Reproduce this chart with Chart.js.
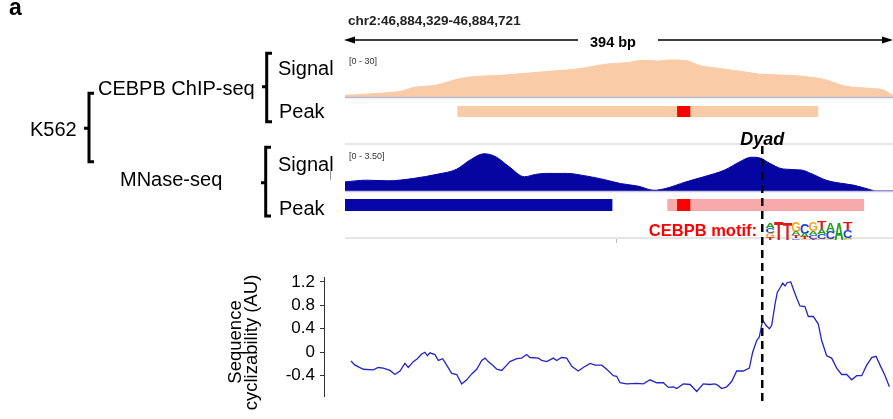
<!DOCTYPE html>
<html lang="en">
<head>
<meta charset="UTF-8">
<title>CEBPB motif at nucleosome dyad</title>
<script src="https://cdn.jsdelivr.net/npm/chart.js"></script>
<style>
  body { margin: 0; background: #fff; }
  #fig { position: relative; width: 893px; height: 419px; overflow: hidden; }
  #fig canvas { position: absolute; }
  #overlay { position: absolute; left: 0; top: 0; }
</style>
</head>
<body>
<div id="fig">
  <canvas id="chipSignal" width="548" height="42" style="left:345px;top:55px"></canvas>
  <canvas id="chipPeak" width="548" height="11" style="left:345px;top:106px"></canvas>
  <canvas id="mnaseSignal" width="548" height="43" style="left:345px;top:148px"></canvas>
  <canvas id="mnasePeak" width="548" height="12" style="left:345px;top:199px"></canvas>
  <canvas id="cycChart" width="633" height="150" style="left:260px;top:262px"></canvas>

  <svg id="overlay" width="893" height="419" font-family="Liberation Sans, Arial, sans-serif">
    <!-- panel letter + locus header -->
    <text x="9" y="15" font-size="23" font-weight="bold">a</text>
    <text x="348" y="25" font-size="13.5" font-weight="bold" fill="#222">chr2:46,884,329-46,884,721</text>
    <line x1="350" y1="40" x2="578" y2="40" stroke="#000" stroke-width="1.5"/>
    <line x1="658" y1="40" x2="887" y2="40" stroke="#000" stroke-width="1.5"/>
    <polygon points="344,40 355,36.5 355,43.5" fill="#000"/>
    <polygon points="893,40 882,36.5 882,43.5" fill="#000"/>
    <text x="613" y="46.5" font-size="14.5" font-weight="bold" text-anchor="middle">394 bp</text>

    <!-- track frame lines -->
    <line x1="345" y1="97.5" x2="893" y2="97.5" stroke="#b8b8d0" stroke-width="1.5"/>
    <line x1="345" y1="144" x2="893" y2="144" stroke="#dedede" stroke-width="1.5"/>
    <line x1="345" y1="191.5" x2="893" y2="191.5" stroke="#c4c4dc" stroke-width="1.5"/>
    <line x1="345" y1="238" x2="893" y2="238" stroke="#cccccc" stroke-width="1.2"/>
    <line x1="616.5" y1="239" x2="616.5" y2="243" stroke="#bbb" stroke-width="1"/>
    <text x="349" y="63.5" font-size="9" fill="#333">[0 - 30]</text>
    <text x="349" y="158.5" font-size="9" fill="#333">[0 - 3.50]</text>

    <!-- left hierarchy labels -->
    <g font-size="20" fill="#000">
      <text x="278" y="74.5">Signal</text>
      <text x="279" y="118.3">Peak</text>
      <text x="98" y="95">CEBPB ChIP-seq</text>
      <text x="30" y="136">K562</text>
      <text x="120" y="185.5">MNase-seq</text>
      <text x="278" y="170.5">Signal</text>
      <text x="279" y="215">Peak</text>
    </g>
    <line x1="330.5" y1="170" x2="330.5" y2="180" stroke="#999" stroke-width="1"/>
    <g stroke="#000" stroke-width="3" fill="none">
      <path d="M272,53.3 H266.7 V121.7 H272 M266.7,86.7 H262"/>
      <path d="M94,93.3 H89 V161.7 H94 M89,128.3 H84"/>
      <path d="M271,147.3 H265.7 V216 H271 M265.7,182.7 H261"/>
    </g>

    <!-- motif -->
    <text x="757" y="236" font-size="16.5" font-weight="bold" fill="#f00" text-anchor="end">CEBPB motif:</text>
    <g id="logo" font-weight="bold" font-size="20"></g>

    <!-- y axis title of cyclizability plot -->
    <g font-size="18.5" text-anchor="middle" fill="#000">
      <text transform="translate(240.5,342) rotate(-90)">Sequence</text>
      <text transform="translate(256.5,342.5) rotate(-90)">cyclizability (AU)</text>
    </g>

    <!-- dyad -->
    <line id="dyadLine" x1="762" y1="146" x2="762" y2="401" stroke="#000" stroke-width="2.5" stroke-dasharray="8,5"/>
    <text id="dyadLabel" x="762" y="144.5" font-size="18" font-weight="bold" font-style="italic" text-anchor="middle">Dyad</text>
  </svg>
</div>

<script>
// genome window 46,884,329-46,884,721, positions in bp from the left edge
const trackLength = 394;
const dyadPos = 300;

// CEBPB ChIP-seq signal (0-30)
const chipPos = [0, 21, 41, 49, 65, 83, 91, 114, 134, 152, 170, 186, 204, 214, 225, 233, 246, 251, 256, 269, 287, 298, 318, 344, 360, 380, 386, 392, 394];
const chipVal = [1.2, 2.4, 4.3, 6.8, 8.4, 13.2, 14.4, 15.6, 17.3, 18.7, 20.4, 23.3, 24.7, 26.2, 25.7, 26.4, 25.9, 24.0, 22.3, 20.4, 18.0, 16.3, 15.6, 12.7, 7.7, 6.0, 5.3, 2.4, 1.2];

// MNase-seq signal (0-3.50)
const mnasePos = [0, 15, 31, 49, 67, 80, 90, 100, 108, 118, 129, 137, 144, 160, 170, 186, 198, 211, 222, 230, 245, 258, 273, 284, 292, 299, 304, 315, 328, 335, 346, 353, 366, 379, 381, 394];
const mnaseVal = [0.74, 0.88, 0.83, 1.02, 1.38, 1.76, 2.53, 3.03, 2.81, 1.98, 1.16, 1.35, 1.43, 1.43, 1.29, 0.94, 0.61, 0.39, 0.06, 0.19, 0.74, 1.16, 1.71, 2.39, 2.75, 2.67, 2.34, 1.79, 1.71, 1.43, 0.88, 0.69, 0.47, 0.06, 0, 0];

// peaks [start, end] in bp
const chipPeak = [81, 340];
const chipSummit = [239, 248];
const mnasePeakLeft = [0, 192];
const mnasePeakRight = [232, 373];
const mnaseSummit = [239, 248];

// sequence cyclizability along the window
const cycPos = [4.3, 7.2, 13.2, 20.3, 23.9, 27.5, 32.4, 35.9, 39.5, 43.1, 45.5, 49.1, 52.0, 55.1, 57.5, 59.2, 61.1, 64.7, 67.1, 70.2, 73.1, 76.7, 80.3, 83.9, 87.5, 91.1, 94.7, 98.3, 100.7, 103.0, 106.6, 109.1, 112.7, 116.3, 118.6, 123.5, 127.0, 130.6, 133.0, 139.0, 141.5, 145.0, 149.8, 152.2, 155.8, 159.4, 163.0, 167.7, 171.3, 176.2, 179.8, 184.6, 188.2, 192.9, 195.4, 197.7, 202.5, 209.7, 214.5, 219.3, 224.1, 228.9, 232.5, 236.1, 238.5, 243.2, 248.1, 252.9, 257.6, 262.4, 266.0, 268.4, 270.8, 274.4, 278.0, 281.6, 286.4, 290.7, 293.1, 296.0, 297.9, 300.3, 302.7, 305.1, 306.8, 309.2, 310.8, 312.8, 314.7, 316.4, 318.0, 320.5, 322.3, 324.8, 327.1, 330.7, 333.1, 336.7, 340.3, 342.7, 346.3, 349.9, 353.5, 357.1, 360.7, 364.3, 367.9, 371.5, 375.1, 378.7, 381.8, 384.7, 388.3, 391.4];
const cycVal = [-0.15, -0.22, -0.29, -0.30, -0.26, -0.27, -0.31, -0.38, -0.32, -0.19, -0.26, -0.16, -0.11, -0.03, 0.0, -0.06, -0.01, -0.04, -0.14, -0.11, -0.22, -0.36, -0.38, -0.54, -0.47, -0.37, -0.29, -0.14, -0.10, -0.16, -0.23, -0.29, -0.31, -0.22, -0.16, -0.11, -0.10, -0.04, -0.09, -0.10, -0.14, -0.16, -0.10, -0.14, -0.09, -0.10, -0.24, -0.32, -0.26, -0.19, -0.22, -0.22, -0.29, -0.40, -0.41, -0.52, -0.54, -0.53, -0.54, -0.47, -0.52, -0.52, -0.60, -0.59, -0.62, -0.54, -0.55, -0.67, -0.54, -0.55, -0.54, -0.57, -0.62, -0.59, -0.50, -0.32, -0.32, -0.27, 0.0, 0.20, 0.26, 0.55, 0.46, 0.40, 0.46, 0.82, 1.02, 1.10, 1.18, 1.13, 1.19, 1.20, 1.08, 0.92, 0.79, 0.78, 0.61, 0.61, 0.48, 0.20, -0.06, -0.10, -0.27, -0.38, -0.38, -0.47, -0.40, -0.40, -0.22, -0.09, -0.07, -0.22, -0.40, -0.59];
const cycTicks = [-0.4, 0, 0.4, 0.8, 1.2];

// CEBPB motif logo, letters top to bottom with their height in bits
const motifLetters = [['A', 'C', 'G', 'T'], ['T'], ['T'], ['G', 'A', 'T', 'C'], ['C', 'A', 'T', 'G'], ['G', 'A', 'C', 'T'], ['T', 'A', 'C', 'G'], ['A', 'C', 'G'], ['A'], ['T', 'C', 'A', 'G']];
const motifBits = [[0.5, 0.55, 0.55, 0.2], [2.0], [1.9], [1.1, 0.4, 0.33, 0.17], [1.2, 0.35, 0.22, 0.1], [1.0, 0.45, 0.45, 0.1], [0.85, 0.5, 0.55, 0.1], [1.0, 0.8, 0.1], [1.9], [0.9, 0.85, 0.15, 0.1]];

const font = 'Liberation Sans, Arial, sans-serif';
const xy = (pos, val) => pos.map((p, i) => ({ x: p, y: val[i] }));
const base = {
    responsive: false,
    animation: false,
    devicePixelRatio: 1,
    layout: { padding: 0 },
    plugins: { legend: { display: false }, tooltip: { enabled: false } }
};

function signalTrack(id, pos, val, maxY, color, tension) {
    return new Chart(document.getElementById(id), {
        type: 'line',
        data: { datasets: [{ data: xy(pos, val), borderColor: color, borderWidth: 1, backgroundColor: color, fill: 'origin', pointRadius: 0, tension: tension, cubicInterpolationMode: 'monotone' }] },
        options: Object.assign({}, base, {
            scales: {
                x: { type: 'linear', min: 0, max: trackLength, display: false },
                y: { min: 0, max: maxY, display: false }
            }
        })
    });
}

// bars listed front to back (first one is drawn on top)
function peakTrack(id, bars) {
    return new Chart(document.getElementById(id), {
        type: 'bar',
        data: {
            labels: ['peak'],
            datasets: bars.map((b, i) => ({ data: [b[0]], backgroundColor: b[1], borderWidth: 0, grouped: false, order: i, barPercentage: 1, categoryPercentage: 1 }))
        },
        options: Object.assign({}, base, {
            indexAxis: 'y',
            scales: {
                x: { type: 'linear', min: 0, max: trackLength, display: false },
                y: { display: false }
            }
        })
    });
}

signalTrack('chipSignal', chipPos, chipVal, 30, '#f9cba7', 0);
signalTrack('mnaseSignal', mnasePos, mnaseVal, 3.5, '#0505a0', 0.4);
peakTrack('chipPeak', [[chipSummit, '#ff0000'], [chipPeak, '#f9cba7']]);
peakTrack('mnasePeak', [[mnaseSummit, '#ff0000'], [mnasePeakRight, '#f8a9a9'], [mnasePeakLeft, '#0505a8']]);

const cycChart = new Chart(document.getElementById('cycChart'), {
    type: 'line',
    data: { datasets: [{ data: xy(cycPos, cycVal), borderColor: '#2424c4', borderWidth: 1.3, pointRadius: 0, tension: 0, fill: false }] },
    options: Object.assign({}, base, {
        layout: { padding: { top: 8, bottom: 10, left: 0, right: 0 } },
        scales: {
            x: { type: 'linear', min: -15.1, max: trackLength, display: false },
            y: {
                min: -0.76,
                max: 1.28,
                afterBuildTicks: s => { s.ticks = cycTicks.map(v => ({ value: v })); },
                afterFit: s => { s.width = 64; },
                border: { display: true, color: '#333', width: 1 },
                grid: { display: true, drawOnChartArea: false, drawTicks: true, tickLength: 4, color: '#333' },
                ticks: {
                    color: '#000', padding: 5,
                    font: { family: font, size: 17 },
                    callback: v => v === 0 ? '0' : v.toFixed(1)
                }
            }
        }
    })
});

// dyad line follows the plot's own x scale
const dyadX = 260 + cycChart.scales.x.getPixelForValue(dyadPos);
const dyadLine = document.getElementById('dyadLine');
dyadLine.setAttribute('x1', dyadX);
dyadLine.setAttribute('x2', dyadX);
document.getElementById('dyadLabel').setAttribute('x', dyadX);

// motif logo
const ns = 'http://www.w3.org/2000/svg';
const logo = document.getElementById('logo');
const letterColor = { A: '#1fa01f', C: '#1f3fd8', G: '#f5a623', T: '#d81b1b' };
const advance = { A: 0.722, C: 0.722, G: 0.778, T: 0.611 };
const logoLeft = 765.5, colW = 8.6, logoBase = 240, pxPerBit = 9.2;
motifLetters.forEach((stack, i) => {
    const total = motifBits[i].reduce((a, b) => a + b, 0);
    let y = logoBase - total * pxPerBit;
    stack.forEach((ch, j) => {
        const h = motifBits[i][j] * pxPerBit;
        y += h;
        const t = document.createElementNS(ns, 'text');
        t.textContent = ch;
        const sx = colW / (advance[ch] * 20) * 1.1;
        const sy = h / (0.716 * 20);
        t.setAttribute('transform', `translate(${logoLeft + i * colW},${y}) scale(${sx},${sy})`);
        t.setAttribute('fill', letterColor[ch]);
        logo.appendChild(t);
    });
});
</script>
</body>
</html>
